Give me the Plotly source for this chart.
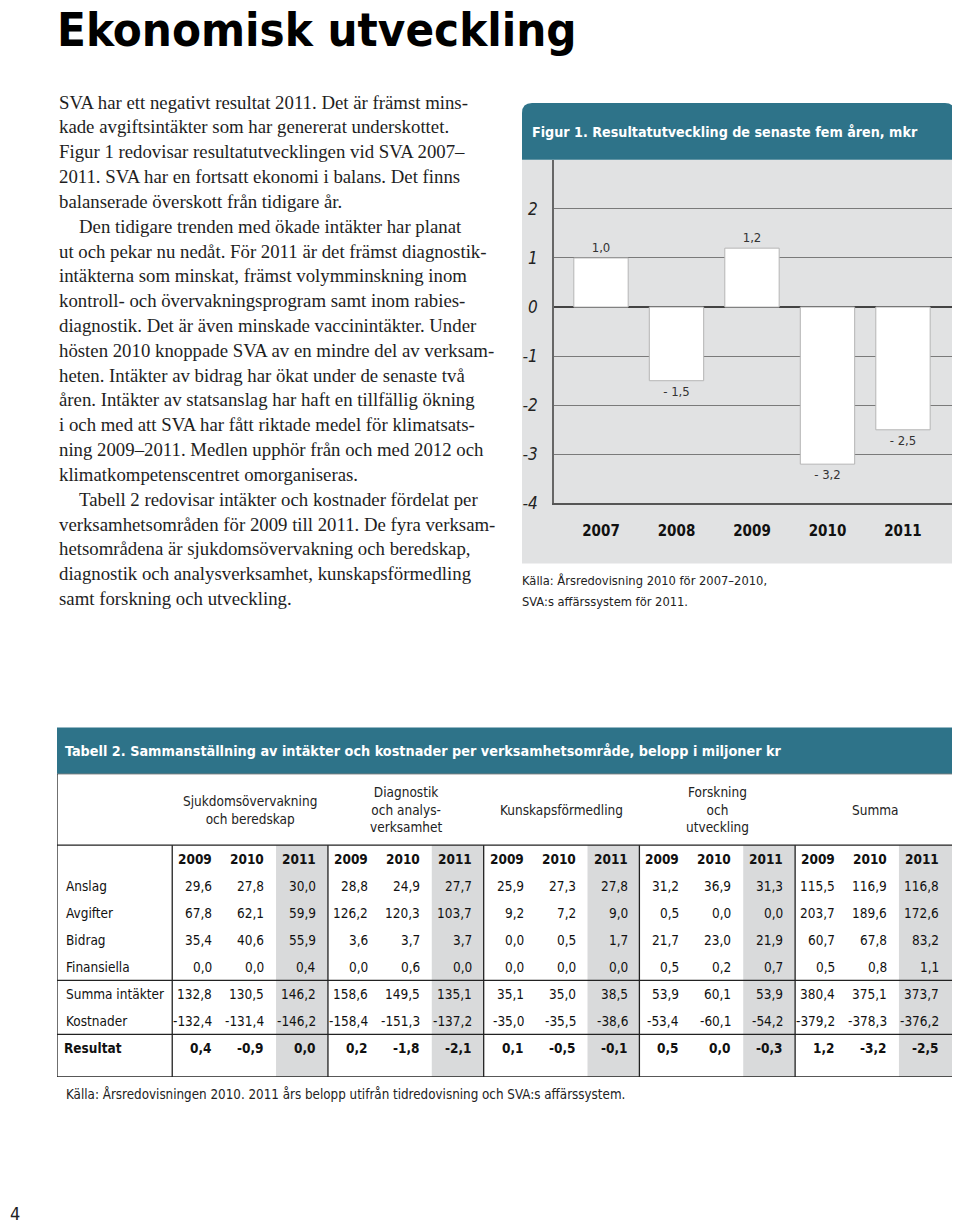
import plotly.graph_objects as go

# Page shown inside an HTML body with an 8px margin; the vertical mapping is
# slightly stretched to compensate for the compression seen in the photograph.
OFF = 8
KY = 0.991
W, H = 960 - OFF, 1228
def X(px): return (px - OFF) / W
def Y(py): return 1 - (py - OFF) / KY / H

SANS_N = "DejaVu Sans Condensed, DejaVu Sans, sans-serif"
SERIF = "Liberation Serif, DejaVu Serif, serif"
TEAL = "#2e7389"
PANEL = "#e1e2e3"
SHADE = "#d9dadb"
INK = "#1e1e1e"

# ---------------- data ----------------
page_title = "Ekonomisk utveckling"
body_lines = [
    (0, "SVA har ett negativt resultat 2011. Det är främst mins-"),
    (0, "kade avgiftsintäkter som har genererat underskottet."),
    (0, "Figur 1 redovisar resultatutvecklingen vid SVA 2007–"),
    (0, "2011. SVA har en fortsatt ekonomi i balans. Det finns"),
    (0, "balanserade överskott från tidigare år."),
    (1, "Den tidigare trenden med ökade intäkter har planat"),
    (0, "ut och pekar nu nedåt. För 2011 är det främst diagnostik-"),
    (0, "intäkterna som minskat, främst volymminskning inom"),
    (0, "kontroll- och övervakningsprogram samt inom rabies-"),
    (0, "diagnostik. Det är även minskade vaccinintäkter. Under"),
    (0, "hösten 2010 knoppade SVA av en mindre del av verksam-"),
    (0, "heten. Intäkter av bidrag har ökat under de senaste två"),
    (0, "åren. Intäkter av statsanslag har haft en tillfällig ökning"),
    (0, "i och med att SVA har fått riktade medel för klimatsats-"),
    (0, "ning 2009–2011. Medlen upphör från och med 2012 och"),
    (0, "klimatkompetenscentret omorganiseras."),
    (1, "Tabell 2 redovisar intäkter och kostnader fördelat per"),
    (0, "verksamhetsområden för 2009 till 2011. De fyra verksam-"),
    (0, "hetsområdena är sjukdomsövervakning och beredskap,"),
    (0, "diagnostik och analysverksamhet, kunskapsförmedling"),
    (0, "samt forskning och utveckling."),
]

fig1_title = "Figur 1. Resultatutveckling de senaste fem åren, mkr"
fig1_years = ["2007", "2008", "2009", "2010", "2011"]
fig1_values = [1.0, -1.5, 1.2, -3.2, -2.5]
fig1_yticks = [2, 1, 0, -1, -2, -3, -4]
fig1_yticktext = ["2", "1", "0", "-1", "-2", "-3", "-4"]
fig1_source = ["Källa: Årsredovisning 2010 för 2007–2010,", "SVA:s affärssystem för 2011."]

tab_title = "Tabell 2. Sammanställning av intäkter och kostnader per verksamhetsområde, belopp i miljoner kr"
tab_groups = ["Sjukdomsövervakning<br>och beredskap", "Diagnostik<br>och analys-<br>verksamhet",
              "Kunskapsförmedling", "Forskning<br>och<br>utveckling", "Summa"]
tab_years = ["2009", "2010", "2011"]
tab_rows = ["Anslag", "Avgifter", "Bidrag", "Finansiella", "Summa intäkter", "Kostnader", "Resultat"]
tab_values = [
    ["29,6", "27,8", "30,0", "28,8", "24,9", "27,7", "25,9", "27,3", "27,8", "31,2", "36,9", "31,3", "115,5", "116,9", "116,8"],
    ["67,8", "62,1", "59,9", "126,2", "120,3", "103,7", "9,2", "7,2", "9,0", "0,5", "0,0", "0,0", "203,7", "189,6", "172,6"],
    ["35,4", "40,6", "55,9", "3,6", "3,7", "3,7", "0,0", "0,5", "1,7", "21,7", "23,0", "21,9", "60,7", "67,8", "83,2"],
    ["0,0", "0,0", "0,4", "0,0", "0,6", "0,0", "0,0", "0,0", "0,0", "0,5", "0,2", "0,7", "0,5", "0,8", "1,1"],
    ["132,8", "130,5", "146,2", "158,6", "149,5", "135,1", "35,1", "35,0", "38,5", "53,9", "60,1", "53,9", "380,4", "375,1", "373,7"],
    ["-132,4", "-131,4", "-146,2", "-158,4", "-151,3", "-137,2", "-35,0", "-35,5", "-38,6", "-53,4", "-60,1", "-54,2", "-379,2", "-378,3", "-376,2"],
    ["0,4", "-0,9", "0,0", "0,2", "-1,8", "-2,1", "0,1", "-0,5", "-0,1", "0,5", "0,0", "-0,3", "1,2", "-3,2", "-2,5"],
]
tab_source = "Källa: Årsredovisningen 2010. 2011 års belopp utifrån tidredovisning och SVA:s affärssystem."
page_number = "4"


def fmt(v):
    s = f"{abs(v):.1f}".replace(".", ",")
    return s if v >= 0 else "- " + s


fig = go.Figure()

# ---------------- bar chart ----------------
fig.add_trace(go.Bar(
    x=fig1_years, y=fig1_values, width=0.72,
    marker=dict(color="white", line=dict(color="#b5b5b5", width=1)),
    text=[fmt(v) for v in fig1_values], textposition="outside",
    textfont=dict(family=SANS_N, size=13, color="#333"),
    constraintext="none", cliponaxis=False, hoverinfo="skip",
    xaxis="x", yaxis="y",
))

y_top = 2 + (208.7 - 160) / 49.05
fig.update_layout(
    xaxis=dict(domain=[X(554), X(955)], range=[-0.6225, 4.689], type="category",
               showgrid=False, zeroline=False, showline=True, linecolor="#555", linewidth=1.5,
               ticks="outside", ticklen=13, tickcolor="rgba(0,0,0,0)",
               tickfont=dict(family=SANS_N, size=15, color="#111", weight="bold"),
               anchor="y", fixedrange=True),
    yaxis=dict(domain=[Y(503), Y(160)], range=[-4, y_top],
               tickvals=fig1_yticks, ticktext=fig1_yticktext,
               showgrid=True, gridcolor="#7a7a7a", gridwidth=1,
               zeroline=True, zerolinecolor="#444", zerolinewidth=2,
               showline=True, linecolor="#666", linewidth=1.5,
               ticks="outside", ticklen=11, tickcolor="rgba(0,0,0,0)",
               tickfont=dict(family=SANS_N, size=17, color="#222", style="italic"),
               anchor="x", fixedrange=True),
)

# ---------------- table axes ----------------
XL, XR = -2.22, 15.08
YT, YB = (773 - 858) / 27, (1076 - 858) / 27
fig.update_layout(
    xaxis2=dict(domain=[X(57), X(955)], range=[XL, XR], visible=False, anchor="y2", fixedrange=True),
    yaxis2=dict(domain=[Y(1076), Y(773)], range=[YB, YT], visible=False, anchor="x2", fixedrange=True),
)

shapes = []
# chart panel background + teal header with rounded top corners
shapes.append(dict(type="rect", xref="paper", yref="paper", x0=X(522), x1=X(955), y0=Y(563), y1=Y(159.5),
                   fillcolor=PANEL, line=dict(width=0), layer="below"))
r = 10
path = (f"M {X(522)},{Y(159.5)} L {X(522)},{Y(103 + r)} Q {X(522)},{Y(103)} {X(522 + r)},{Y(103)} "
        f"L {X(955 - r)},{Y(103)} Q {X(955)},{Y(103)} {X(955)},{Y(103 + r)} L {X(955)},{Y(159.5)} Z")
shapes.append(dict(type="path", xref="paper", yref="paper", path=path, fillcolor=TEAL, line=dict(width=0), layer="below"))

# table teal header
shapes.append(dict(type="rect", xref="paper", yref="paper", x0=X(57), x1=X(955), y0=Y(773), y1=Y(727),
                   fillcolor=TEAL, line=dict(width=0), layer="below"))

# shaded 2011 columns
n_groups = len(tab_groups)
for g in range(n_groups):
    c = 3 * g + 2
    shapes.append(dict(type="rect", xref="x2", yref="y2", x0=c, x1=c + 1 if g < n_groups - 1 else XR,
                       y0=-0.5, y1=YB, fillcolor=SHADE, line=dict(width=0), layer="below"))
# outer box
shapes.append(dict(type="rect", xref="x2", yref="y2", x0=XL, x1=XR, y0=YT, y1=YB,
                   line=dict(color="#222", width=1.3)))
# group dividers
for g in range(n_groups):
    shapes.append(dict(type="line", xref="x2", yref="y2", x0=3 * g, x1=3 * g, y0=-0.5, y1=YB,
                       line=dict(color="#222", width=1.3)))
# horizontal rules
for yy in [-0.5, 4.5, 6.5]:
    shapes.append(dict(type="line", xref="x2", yref="y2", x0=XL, x1=XR, y0=yy, y1=yy,
                       line=dict(color="#222", width=1.3)))

ann = []
# page title
ann.append(dict(text=f"<b>{page_title}</b>", x=X(55), y=Y(29), xref="paper", yref="paper",
                xanchor="left", yanchor="middle", showarrow=False,
                font=dict(family=SANS_N, size=47, color="#000")))
# body text
for i, (indent, line) in enumerate(body_lines):
    ann.append(dict(text=line, x=X(57 + 20 * indent), y=Y(102 + 24.8 * i), xref="paper", yref="paper",
                    xanchor="left", yanchor="middle", showarrow=False,
                    font=dict(family=SERIF, size=18.8, color=INK)))
# chart header & source
ann.append(dict(text=f"<b>{fig1_title}</b>", x=X(530), y=Y(132), xref="paper", yref="paper",
                xanchor="left", yanchor="middle", showarrow=False,
                font=dict(family=SANS_N, size=14.2, color="white")))
for i, s in enumerate(fig1_source):
    ann.append(dict(text=s, x=X(520), y=Y(580 + 21 * i), xref="paper", yref="paper",
                    xanchor="left", yanchor="middle", showarrow=False,
                    font=dict(family=SANS_N, size=12.8, color="#222")))
# table header
ann.append(dict(text=f"<b>{tab_title}</b>", x=X(63), y=Y(750), xref="paper", yref="paper",
                xanchor="left", yanchor="middle", showarrow=False,
                font=dict(family=SANS_N, size=14.3, color="white")))
# group headers
for g, name in enumerate(tab_groups):
    right = 3 * g + 3 if g < n_groups - 1 else XR
    ann.append(dict(text=name, x=(3 * g + right) / 2, y=(809 - 858) / 27, xref="x2", yref="y2",
                    xanchor="center", yanchor="middle", showarrow=False,
                    font=dict(family=SANS_N, size=13.5, color="#222")))
pad = 0.19
# year header row
for c in range(3 * n_groups):
    ann.append(dict(text=f"<b>{tab_years[c % 3]}</b>", x=c + 1 - pad, y=0, xref="x2", yref="y2",
                    xanchor="right", yanchor="middle", showarrow=False,
                    font=dict(family=SANS_N, size=13.5, color="#111")))
# body rows
for r_i, (label, vals) in enumerate(zip(tab_rows, tab_values)):
    yy = r_i + 1
    bold = label == "Resultat"
    ann.append(dict(text=f"<b>{label}</b>" if bold else label, x=XL + 0.14 if not bold else XL + 0.1,
                    y=yy, xref="x2", yref="y2",
                    xanchor="left", yanchor="middle", showarrow=False,
                    font=dict(family=SANS_N, size=13.5, color="#111")))
    for c, v in enumerate(vals):
        ann.append(dict(text=f"<b>{v}</b>" if bold else v, x=c + 1 - pad, y=yy, xref="x2", yref="y2",
                        xanchor="right", yanchor="middle", showarrow=False,
                        font=dict(family=SANS_N, size=13.5, color="#111")))
# table source
ann.append(dict(text=tab_source, x=X(64), y=Y(1093), xref="paper", yref="paper",
                xanchor="left", yanchor="middle", showarrow=False,
                font=dict(family=SANS_N, size=13.3, color="#222")))
# page number
ann.append(dict(text=page_number, x=X(8), y=max(Y(1220), 0.01), xref="paper", yref="paper",
                xanchor="left", yanchor="middle", showarrow=False,
                font=dict(family=SANS_N, size=18, color="#222")))

fig.update_layout(
    width=W, height=H, margin=dict(l=0, r=0, t=0, b=0),
    paper_bgcolor="white", plot_bgcolor="rgba(0,0,0,0)",
    showlegend=False, shapes=shapes, annotations=ann,
)

fig.write_html("out.html")
